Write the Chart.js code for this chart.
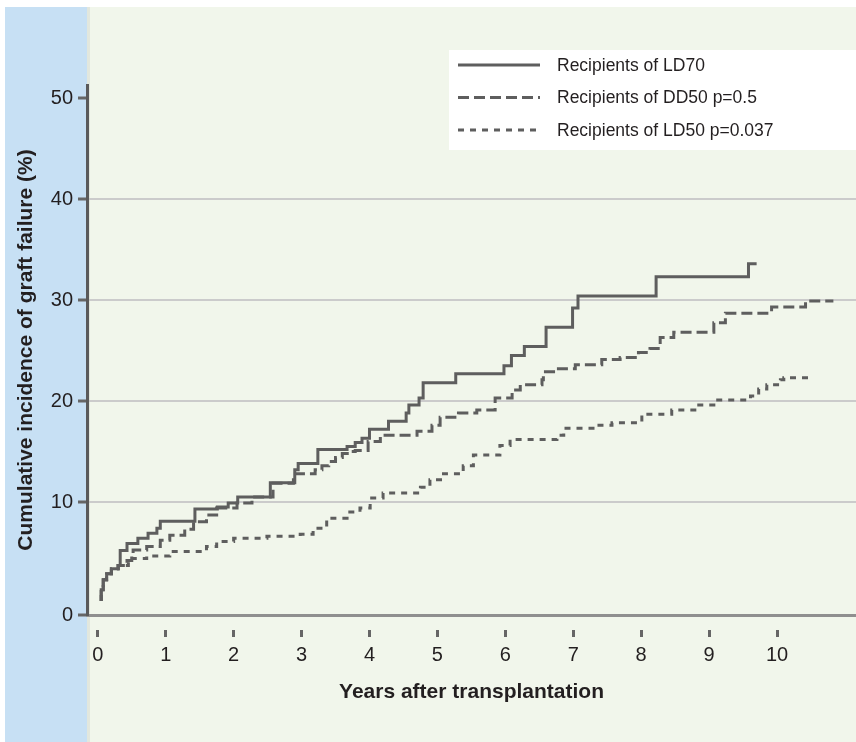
<!DOCTYPE html>
<html>
<head>
<meta charset="utf-8">
<script src="https://cdn.jsdelivr.net/npm/chart.js@4.4.0/dist/chart.umd.min.js"></script>
<style>
  html, body { margin: 0; padding: 0; background: #fff; }
  #wrap { width: 856px; height: 742px; }
</style>
</head>
<body>
<div id="wrap"><canvas id="graftChart" width="856" height="742"></canvas></div>
<script>
// Data (years after transplant, cumulative %)
const seriesLabels = ['Recipients of LD70', 'Recipients of DD50 p=0.5', 'Recipients of LD50 p=0.037'];

const ld70Years = [0.05, 0.05, 0.08, 0.13, 0.2, 0.3, 0.33, 0.43, 0.59, 0.74, 0.87, 0.92, 1.43, 1.76, 1.92, 2.06, 2.54, 2.9, 2.95, 3.24, 3.67, 3.79, 3.89, 4.0, 4.28, 4.54, 4.58, 4.73, 4.79, 5.27, 5.98, 6.09, 6.28, 6.6, 6.99, 7.07, 8.22, 9.58, 9.7];
const ld70Values = [0.2, 1.3, 2.3, 2.9, 3.4, 3.7, 5.2, 5.9, 6.4, 6.9, 7.4, 8.1, 9.3, 9.5, 9.9, 10.5, 11.9, 13.2, 13.8, 15.2, 15.5, 15.9, 16.3, 17.2, 18.0, 18.8, 19.6, 20.3, 21.8, 22.7, 23.5, 24.5, 25.4, 27.3, 29.2, 30.4, 32.3, 33.6, 33.6];

const dd50Years = [0.05, 0.05, 0.08, 0.13, 0.2, 0.3, 0.43, 0.5, 0.52, 0.72, 0.92, 1.06, 1.28, 1.41, 1.6, 1.75, 2.05, 2.27, 2.58, 2.88, 3.2, 3.3, 3.4, 3.5, 3.6, 3.7, 3.79, 3.98, 4.16, 4.7, 4.92, 5.04, 5.31, 5.58, 5.85, 6.1, 6.22, 6.54, 6.56, 6.71, 7.03, 7.42, 7.69, 7.96, 8.13, 8.28, 8.48, 9.07, 9.24, 9.92, 10.42, 10.83];
const dd50Values = [0.2, 1.3, 2.3, 2.9, 3.4, 3.7, 4.2, 4.6, 5.25, 5.6, 6.2, 6.7, 7.3, 8.05, 8.7, 9.4, 9.9, 10.5, 11.85, 12.8, 13.2, 13.6, 14.0, 14.4, 14.8, 15.0, 15.1, 16.0, 16.6, 17.0, 17.6, 18.4, 18.8, 19.1, 20.3, 21.1, 21.6, 22.1, 22.9, 23.2, 23.6, 24.1, 24.3, 24.8, 25.2, 26.3, 26.8, 27.75, 28.7, 29.3, 29.9, 29.9];

const ld50Years = [0.05, 0.05, 0.08, 0.13, 0.2, 0.3, 0.45, 0.72, 1.06, 1.6, 1.75, 2.0, 2.49, 2.98, 3.17, 3.37, 3.67, 3.86, 4.01, 4.2, 4.75, 4.89, 5.09, 5.38, 5.53, 5.92, 6.07, 6.76, 6.86, 7.32, 7.57, 8.01, 8.45, 8.79, 9.07, 9.61, 9.73, 9.85, 10.05, 10.1, 10.49];
const ld50Values = [0.2, 1.3, 2.3, 2.9, 3.4, 3.7, 4.4, 4.65, 5.1, 5.6, 6.1, 6.4, 6.6, 6.8, 7.4, 8.4, 9.0, 9.4, 10.4, 10.9, 11.45, 12.2, 12.8, 13.6, 14.65, 15.6, 16.2, 16.6, 17.3, 17.6, 17.85, 18.7, 19.1, 19.6, 20.1, 20.5, 21.2, 21.6, 22.1, 22.3, 22.3];

const xTickValues = [0, 1, 2, 3, 4, 5, 6, 7, 8, 9, 10];
const yTickValues = [0, 10, 20, 30, 40, 50];

const FONT = "'Liberation Sans', Arial, sans-serif";
const LINE = '#5e5e5e';
const TEXT = '#231f20';
const Y_FLOOR = -1.19; // the x axis sits a little below zero

function toPoints(xs, ys) {
    return xs.map((x, i) => ({ x: x, y: ys[i] }));
}

// background panels
const panels = {
    id: 'panels',
    beforeDraw(chart) {
        const c = chart.ctx;
        c.save();
        c.fillStyle = '#ffffff';
        c.fillRect(0, 0, chart.width, chart.height);
        c.fillStyle = '#c7e0f4';
        c.fillRect(5, 7, 82, chart.height - 7);
        c.fillStyle = '#f1f6eb';
        c.fillRect(87, 7, chart.width - 87, chart.height - 7);
        c.fillStyle = 'rgba(0,0,0,0.06)';
        c.fillRect(87, 7, 3, chart.height - 7);
        c.restore();
    }
};

// legend box in the top right
const boxLegend = {
    id: 'boxLegend',
    afterDraw(chart) {
        const c = chart.ctx;
        c.save();
        c.fillStyle = '#ffffff';
        c.fillRect(449, 50, chart.width - 449, 100);
        c.font = '17.5px ' + FONT;
        c.textBaseline = 'middle';
        chart.data.datasets.forEach((ds, i) => {
            const y = 65 + i * 32.5;
            c.strokeStyle = ds.borderColor;
            c.lineWidth = ds.borderWidth;
            c.setLineDash(ds.borderDash || []);
            c.beginPath();
            c.moveTo(458, y);
            c.lineTo(540, y);
            c.stroke();
            c.setLineDash([]);
            c.fillStyle = TEXT;
            c.fillText(ds.label, 557, y + 1);
        });
        c.restore();
    }
};

new Chart(document.getElementById('graftChart'), {
    type: 'line',
    data: {
        datasets: [{
            label: seriesLabels[0],
            data: toPoints(ld70Years, ld70Values),
            borderColor: LINE,
            borderWidth: 3,
            borderDash: [],
            stepped: 'before',
            pointRadius: 0,
            fill: false
        }, {
            label: seriesLabels[1],
            data: toPoints(dd50Years, dd50Values),
            borderColor: LINE,
            borderWidth: 3,
            borderDash: [11, 5],
            stepped: 'before',
            pointRadius: 0,
            fill: false
        }, {
            label: seriesLabels[2],
            data: toPoints(ld50Years, ld50Values),
            borderColor: LINE,
            borderWidth: 3,
            borderDash: [6, 6],
            stepped: 'before',
            pointRadius: 0,
            fill: false
        }]
    },
    options: {
        responsive: false,
        animation: false,
        devicePixelRatio: 1,
        layout: { padding: { top: 85, left: 0, right: 0, bottom: 0 } },
        plugins: {
            legend: { display: false },
            tooltip: { enabled: false }
        },
        scales: {
            x: {
                type: 'linear',
                min: -0.159,
                max: 11.163,
                afterBuildTicks: s => { s.ticks = xTickValues.map(v => ({ value: v })); },
                afterFit: s => { s.height = 127; },
                border: { display: true, color: '#8f8f8f', width: 3 },
                grid: {
                    drawOnChartArea: false,
                    drawTicks: true,
                    tickLength: 22,
                    tickBorderDash: [0, 13, 9],
                    tickColor: '#666666',
                    tickWidth: 3
                },
                ticks: {
                    padding: 6,
                    maxRotation: 0,
                    autoSkip: false,
                    color: TEXT,
                    font: { family: FONT, size: 20 }
                },
                title: {
                    display: true,
                    text: 'Years after transplantation',
                    color: TEXT,
                    font: { family: FONT, size: 21, weight: 'bold' },
                    padding: { top: 0, bottom: 37 }
                }
            },
            y: {
                type: 'linear',
                min: Y_FLOOR,
                max: 51.29,
                afterBuildTicks: s => {
                    s.ticks = yTickValues.map(v => ({ value: v === 0 ? Y_FLOOR : v }));
                },
                afterFit: s => { s.width = 87; },
                border: { display: true, color: '#5a5a5a', width: 3 },
                grid: {
                    color: ctx => (ctx.tick && ctx.tick.value >= 10 && ctx.tick.value <= 40) ? '#cbcbcb' : 'rgba(0,0,0,0)',
                    lineWidth: 2,
                    tickLength: 9,
                    tickColor: '#666666',
                    tickWidth: 3
                },
                ticks: {
                    padding: 5,
                    color: TEXT,
                    font: { family: FONT, size: 20 },
                    callback: v => (v < 0 ? '0' : v)
                },
                title: {
                    display: true,
                    text: 'Cumulative incidence of graft failure (%)',
                    color: TEXT,
                    font: { family: FONT, size: 21, weight: 'bold' },
                    padding: { top: 14, bottom: 0 }
                }
            }
        }
    },
    plugins: [panels, boxLegend]
});
</script>
</body>
</html>
